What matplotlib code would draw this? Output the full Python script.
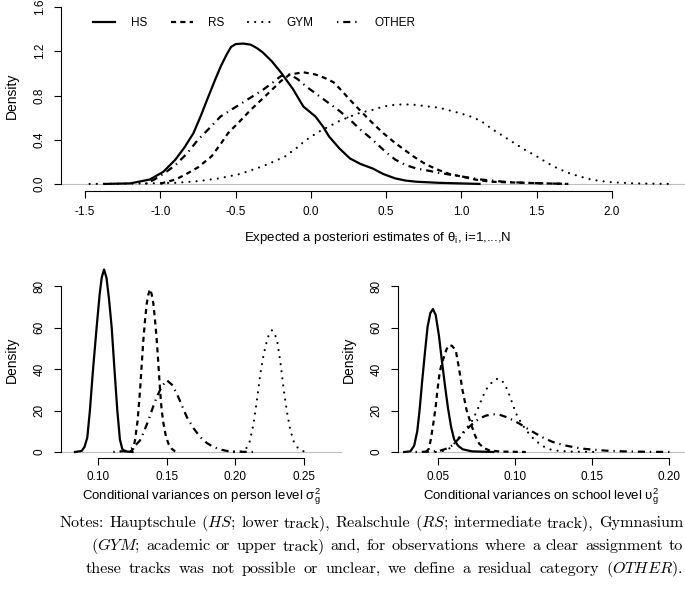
import numpy as np
import matplotlib.pyplot as plt

plt.rcParams['font.family'] = ['Liberation Sans', 'DejaVu Sans']

groups = ['HS', 'RS', 'GYM', 'OTHER']

# top panel: EAP estimates of theta_i
eap_hs_x = [-1.37, -1.2, -1.07, -0.98, -0.90, -0.84, -0.78, -0.73, -0.69, -0.64, -0.60, -0.56, -0.53,
            -0.50, -0.45, -0.40, -0.36, -0.32, -0.26, -0.20, -0.12, -0.05, 0.03, 0.08, 0.12, 0.19,
            0.26, 0.33, 0.41, 0.48, 0.56, 0.63, 0.70, 0.85, 1.12]
eap_hs_y = [0, 0.005, 0.04, 0.11, 0.22, 0.33, 0.46, 0.62, 0.76, 0.93, 1.06, 1.17, 1.24,
            1.265, 1.27, 1.26, 1.23, 1.19, 1.11, 1.01, 0.86, 0.70, 0.61, 0.52, 0.43, 0.32,
            0.23, 0.18, 0.14, 0.09, 0.05, 0.03, 0.02, 0.01, 0]
eap_rs_x = [-1.0, -0.98, -0.90, -0.84, -0.75, -0.66, -0.60, -0.55, -0.47, -0.40, -0.33, -0.26, -0.20,
            -0.14, -0.05, 0.03, 0.09, 0.15, 0.20, 0.26, 0.33, 0.41, 0.48, 0.56, 0.62, 0.68, 0.76,
            0.84, 0.92, 0.99, 1.09, 1.19, 1.30, 1.42, 1.55, 1.71]
eap_rs_y = [0, 0.01, 0.04, 0.08, 0.15, 0.25, 0.36, 0.46, 0.57, 0.67, 0.76, 0.85, 0.93,
            0.99, 1.01, 0.99, 0.96, 0.92, 0.85, 0.76, 0.66, 0.55, 0.46, 0.37, 0.31, 0.25, 0.18,
            0.13, 0.09, 0.07, 0.04, 0.02, 0.015, 0.01, 0.005, 0]
eap_gym_x = [-1.47, -1.2, -0.90, -0.75, -0.61, -0.47, -0.32, -0.25, -0.17, -0.10, -0.03, 0.05, 0.12,
             0.19, 0.26, 0.33, 0.41, 0.48, 0.55, 0.62, 0.70, 0.78, 0.85, 0.92, 0.99, 1.06, 1.13,
             1.20, 1.28, 1.35, 1.42, 1.50, 1.57, 1.64, 1.71, 1.78, 1.86, 1.93, 2.00, 2.15, 2.39]
eap_gym_y = [0, 0.003, 0.01, 0.025, 0.05, 0.09, 0.16, 0.20, 0.25, 0.32, 0.40, 0.47, 0.52,
             0.57, 0.61, 0.645, 0.67, 0.70, 0.715, 0.72, 0.715, 0.70, 0.69, 0.665, 0.64, 0.61, 0.57,
             0.50, 0.43, 0.37, 0.31, 0.25, 0.19, 0.14, 0.10, 0.07, 0.04, 0.025, 0.015, 0.005, 0]
eap_oth_x = [-1.10, -1.04, -0.97, -0.90, -0.82, -0.75, -0.67, -0.60, -0.53, -0.46, -0.39, -0.32, -0.26,
             -0.20, -0.14, -0.09, -0.03, 0.05, 0.12, 0.19, 0.26, 0.33, 0.41, 0.48, 0.56, 0.63, 0.70,
             0.78, 0.85, 0.92, 0.99, 1.06, 1.13, 1.28, 1.42, 1.55, 1.71]
eap_oth_y = [0, 0.04, 0.10, 0.17, 0.28, 0.40, 0.51, 0.61, 0.67, 0.73, 0.79, 0.85, 0.91,
             0.975, 0.99, 0.95, 0.88, 0.80, 0.73, 0.66, 0.58, 0.49, 0.40, 0.31, 0.22, 0.17, 0.14,
             0.12, 0.10, 0.085, 0.07, 0.055, 0.04, 0.02, 0.01, 0.005, 0]

# bottom left: person level variances
sig_hs_x = [0.0830, 0.0879, 0.0900, 0.0920, 0.0939, 0.0962, 0.0988, 0.1010, 0.1025, 0.1042, 0.1060,
            0.1078, 0.1098, 0.1118, 0.1139, 0.1158, 0.1175, 0.1195, 0.1250]
sig_hs_y = [0, 0.5, 2.5, 7, 20, 40, 60, 76, 84, 88, 84, 74, 60, 40, 20, 6, 1.5, 0.3, 0]
sig_rs_x = [0.1232, 0.1255, 0.1268, 0.1287, 0.1305, 0.1317, 0.1329, 0.1342, 0.1354, 0.1366, 0.1378,
            0.1390, 0.1402, 0.1415, 0.1427, 0.1439, 0.1451, 0.1463, 0.1476, 0.1494, 0.1512, 0.1537,
            0.1561, 0.1573]
sig_rs_y = [0, 1.5, 5.6, 15, 29.8, 42, 53.9, 64, 71.6, 76, 78.5, 76, 71.6, 63, 53.9, 42, 29.8, 20,
            13.7, 7.5, 4, 1.5, 0.3, 0]
sig_gym_x = [0.1990, 0.2045, 0.2073, 0.2105, 0.2134, 0.2158, 0.2183, 0.2207, 0.2232, 0.2250, 0.2268,
             0.2287, 0.2305, 0.2330, 0.2354, 0.2378, 0.2402, 0.2427, 0.2451, 0.2475, 0.2500, 0.2549]
sig_gym_y = [0, 0.2, 0.8, 5, 13.7, 25, 37.8, 47, 53.9, 57.5, 58.7, 57, 53.9, 43, 29.8, 19, 10.5, 5,
             2.4, 1, 0.3, 0]
sig_oth_x = [0.111, 0.120, 0.124, 0.1275, 0.1305, 0.1335, 0.1366, 0.1396, 0.1427, 0.1463, 0.150,
             0.1537, 0.1573, 0.161, 0.1646, 0.1695, 0.1744, 0.1793, 0.1841, 0.1890, 0.1939, 0.2040,
             0.2146]
sig_oth_y = [0, 0.5, 1.6, 3.5, 5.6, 10, 15.3, 21, 26.5, 31.5, 34.6, 32.5, 28.2, 22.5, 16.9, 11.5,
             7.2, 4.3, 2.4, 1.2, 0.5, 0.1, 0]

# bottom right: school level variances
ups_hs_x = [0.0280, 0.0320, 0.0345, 0.0365, 0.0380, 0.0398, 0.0415, 0.0432, 0.0450, 0.0467, 0.0485,
            0.0506, 0.0525, 0.0545, 0.0565, 0.0585, 0.0605, 0.0630, 0.0660, 0.0720, 0.0860]
ups_hs_y = [0, 0.3, 3, 10, 20, 35, 48, 60.3, 67, 68.9, 66, 56, 44, 32, 21, 12, 6, 3, 1.3, 0.3, 0]
ups_rs_x = [0.0420, 0.0440, 0.0452, 0.0470, 0.0485, 0.0496, 0.0510, 0.0525, 0.0539, 0.0555, 0.0572,
            0.0590, 0.0615, 0.0637, 0.0659, 0.0686, 0.0713, 0.0740, 0.0767, 0.0800, 0.0833, 0.0900,
            0.1070]
ups_rs_y = [0, 1.5, 5.6, 14, 22, 29.8, 38, 43, 45.9, 49.5, 51.5, 51.2, 49.1, 40, 29.8, 20, 13.7, 8,
            4, 1.8, 0.8, 0.2, 0]
ups_gym_x = [0.0485, 0.0530, 0.0572, 0.0605, 0.0637, 0.0680, 0.0724, 0.0757, 0.0789, 0.0816, 0.0843,
             0.0870, 0.0898, 0.0925, 0.0952, 0.0980, 0.1007, 0.1040, 0.1072, 0.1115, 0.1159, 0.1200,
             0.1246, 0.1350, 0.1528]
ups_gym_y = [0, 0.5, 1.6, 4, 7.2, 11, 15.3, 20.5, 26.5, 30.5, 33, 35, 35.4, 33.5, 29.8, 24, 18.5, 14,
             10.5, 6.8, 4, 2, 0.8, 0.2, 0]
ups_oth_x = [0.0354, 0.0450, 0.0507, 0.0550, 0.0593, 0.0636, 0.0680, 0.0723, 0.0767, 0.0810, 0.0854,
             0.0898, 0.0941, 0.0985, 0.1028, 0.1082, 0.1137, 0.1190, 0.1246, 0.1310, 0.1376, 0.1440,
             0.1507, 0.1600, 0.1702, 0.1850, 0.2028]
ups_oth_y = [0, 0.2, 0.5, 1.5, 3.2, 6.5, 10.5, 13.5, 16.1, 17.5, 18.2, 18, 16.9, 15.4, 13.7, 11.2,
             8.8, 6.6, 4.8, 3.4, 2.4, 1.6, 1.1, 0.6, 0.3, 0.1, 0]

notes = [
    "Notes: Hauptschule ($HS$; lower track), Realschule ($RS$; intermediate track), Gymnasium",
    "($GYM$; academic or upper track) and, for observations where a clear assignment to",
    "these tracks was not possible or unclear, we define a residual category ($OTHER$).",
]
notes_x = [60, 91, 86]

# R-like line types
dash = {'HS': None, 'RS': (2.3, 1.9), 'GYM': (0.01, 3.2), 'OTHER': (0.6, 2.2, 3.2, 2.2)}


def draw(ax, curves, xlim, ylim, xb, yb, xt, yt, xfmt, yfmt, xlabel, ylab_x, xlab_xy, pad=6):
    ax.axhline(0, color='#bebebe', lw=0.8, zorder=0)
    for g, (x, y) in zip(groups, curves):
        ln, = ax.plot(x, y, color='black', lw=1.6, label=g)
        if dash[g] is not None:
            ln.set_dashes(dash[g])
            if g == 'GYM':
                ln.set_dash_capstyle('round')
    ax.set_xlim(*xlim)
    ax.set_ylim(*ylim)
    for s in ['top', 'right']:
        ax.spines[s].set_visible(False)
    ax.spines['left'].set_bounds(*yb)
    ax.spines['bottom'].set_bounds(*xb)
    ax.set_xticks(xt)
    ax.set_yticks(yt)
    ax.set_xticklabels([xfmt % v for v in xt])
    ax.set_yticklabels([yfmt % v for v in yt])
    ax.tick_params(direction='out', length=5, width=0.8, pad=6, labelsize=8.5)
    ax.tick_params(axis='x', pad=pad)
    ax.tick_params(axis='y', labelrotation=90)
    for t in ax.get_yticklabels():
        t.set_va('center')
    ax.set_ylabel('Density', fontsize=10, va='center')
    ax.yaxis.set_label_coords(ylab_x, 0.5)
    ax.set_xlabel(xlabel, fontsize=9.5, va='center')
    ax.xaxis.set_label_coords(*xlab_xy)


fig = plt.figure(figsize=(6.85, 5.92), dpi=100)
W, H = 685.0, 592.0

ax_top = fig.add_axes([61 / W, 1 - 191 / H, 624 / W, 191 / H])
draw(ax_top,
     [(eap_hs_x, eap_hs_y), (eap_rs_x, eap_rs_y), (eap_gym_x, eap_gym_y), (eap_oth_x, eap_oth_y)],
     (-1.66, 2.485), (-0.064, 1.664), (-1.5, 2.0), (0, 1.6),
     [-1.5, -1.0, -0.5, 0.0, 0.5, 1.0, 1.5, 2.0], [0.0, 0.4, 0.8, 1.2, 1.6], '%.1f', '%.1f',
     'Expected a posteriori estimates of θ$_\\mathregular{i}$, i=1,...,N',
     -49 / 624, ((378 - 61) / 624, (191 - 238) / 191))
ax_top.legend(loc='center left', bbox_to_anchor=(32 / 624, 1 - 23 / 191), ncol=4, frameon=False,
              fontsize=8.5, handlelength=1.9, handletextpad=1.3, columnspacing=2.0,
              borderpad=0, borderaxespad=0)

ax_l = fig.add_axes([61 / W, 1 - 458 / H, 281 / W, 196 / H])
draw(ax_l,
     [(sig_hs_x, sig_hs_y), (sig_rs_x, sig_rs_y), (sig_gym_x, sig_gym_y), (sig_oth_x, sig_oth_y)],
     (0.0728, 0.2779), (-2.9, 91.6), (0.10, 0.25), (0, 80),
     [0.10, 0.15, 0.20, 0.25], [0, 20, 40, 60, 80], '%.2f', '%d',
     'Conditional variances on person level σ$^\\mathregular{2}_\\mathregular{g}$',
     -49 / 281, ((201 - 61) / 281, (458 - 497) / 196), pad=4)

ax_r = fig.add_axes([398 / W, 1 - 458 / H, 287 / W, 196 / H])
draw(ax_r,
     [(ups_hs_x, ups_hs_y), (ups_rs_x, ups_rs_y), (ups_gym_x, ups_gym_y), (ups_oth_x, ups_oth_y)],
     (0.0240, 0.2104), (-2.9, 91.6), (0.05, 0.20), (0, 80),
     [0.05, 0.10, 0.15, 0.20], [0, 20, 40, 60, 80], '%.2f', '%d',
     'Conditional variances on school level υ$^\\mathregular{2}_\\mathregular{g}$',
     -49 / 287, ((541 - 398) / 287, (458 - 497) / 196), pad=4)

# justified notes paragraph
renderer = fig.canvas.get_renderer()
for i, line in enumerate(notes):
    words = line.split(' ')
    y = 1 - (523 + 23 * i) / H
    texts = [fig.text(0, y, w, ha='left', va='center', family='cmr10',
                      math_fontfamily='cm', fontsize=11.6) for w in words]
    widths = [t.get_window_extent(renderer).width for t in texts]
    gap = (683 - notes_x[i] - sum(widths)) / (len(words) - 1)
    x = notes_x[i]
    for t, w in zip(texts, widths):
        t.set_x(x / W)
        x += w + gap

fig.savefig('out.png', dpi=100)
